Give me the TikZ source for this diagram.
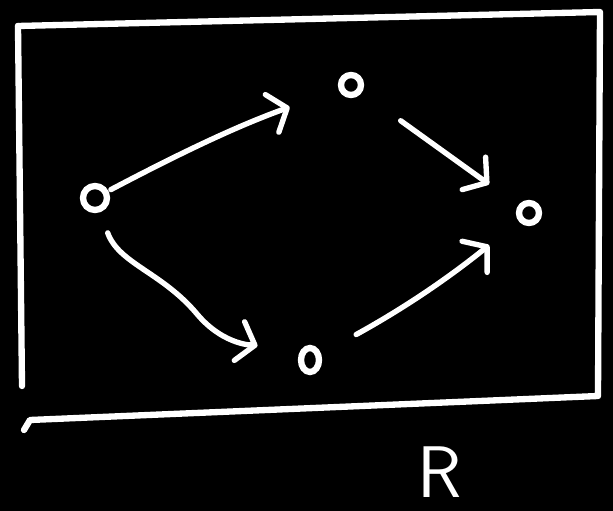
\documentclass[tikz,border=0pt]{standalone}
\usepackage{tikz}
\usetikzlibrary{arrows.meta, positioning, calc, shapes.geometric}
\definecolor{mChalk}{HTML}{FFFFFF}
\definecolor{mBoard}{HTML}{000000}

\begin{document}
\begin{tikzpicture}[x=0.025cm, y=-0.025cm,
    dot/.style={draw=mChalk, circle, line width=4.5pt, inner sep=0pt, minimum size=#1},
    conn/.style={mChalk, line width=3.8pt, line cap=round,
      -{Straight Barb[length=4mm, width=10mm, line width=3.8pt, round]}},
    frame/.style={mChalk, line width=4.5pt, line cap=round, line join=round}]
    % board and region
    \fill[mBoard] (0,0) rectangle (613,511);
    \draw[frame] (18,26) -- (600,12) -- (598,396) -- (30,420) -- (24,430);
    \draw[frame] (18,26) -- (22,386);
    % the four points
    \node[dot=0.6cm] (l) at (95,198) {};
    \node[dot=0.5cm] (t) at (351,85) {};
    \node[dot=0.5cm] (r) at (529,213) {};
    \node[dot=0.45cm, ellipse, minimum height=0.6cm] (b) at (310,360) {};
    \coordinate (m) at (197,314);
    % arrows
    \draw[conn, shorten <=2pt, shorten >=1.3cm] (l) to[bend left=4] (t);
    \draw[conn, shorten <=1.2cm, shorten >=0.9cm] (t) -- (r);
    \draw[conn, shorten <=0.55cm, shorten >=1.05cm] (l) to[out=-70, in=130] (m)
      to[out=-50, in=165] (b);
    \draw[conn, shorten <=1cm, shorten >=0.95cm] (b) to[bend right=5] (r);
    % label
    \node[mChalk, inner sep=0pt, font=\sffamily\fontsize{52}{52}\selectfont] (lblR) at (440,472) {R};
\end{tikzpicture}
\end{document}
